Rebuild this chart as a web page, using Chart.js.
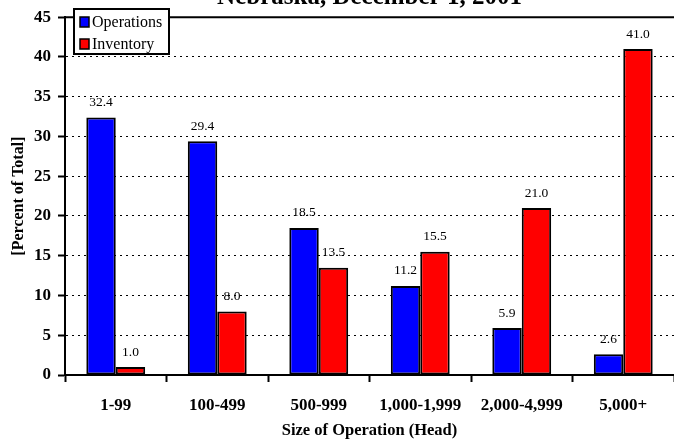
<!DOCTYPE html>
<html>
<head>
<meta charset="utf-8">
<script src="https://cdn.jsdelivr.net/npm/chart.js@4/dist/chart.umd.min.js"></script>
<style>
  html, body { margin: 0; padding: 0; background: #fff; }
  #wrap { width: 674px; height: 442px; position: relative; }
</style>
</head>
<body>
<div id="wrap"><canvas id="c" width="674" height="442"></canvas></div>
<script>
const titleText = 'Nebraska, December 1, 2001';
const categories = ['1-99', '100-499', '500-999', '1,000-1,999', '2,000-4,999', '5,000+'];
const operations = [32.4, 29.4, 18.5, 11.2, 5.9, 2.6];
const inventory = [1.0, 8.0, 13.5, 15.5, 21.0, 41.0];
const yTicks = [0, 5, 10, 15, 20, 25, 30, 35, 40, 45];

const SERIF = '"Liberation Serif", "Times New Roman", serif';
const Y_MAX = yTicks[yTicks.length - 1];

// Value labels above every bar
const valueLabels = {
  id: 'valueLabels',
  afterDatasetsDraw(chart) {
    const ctx = chart.ctx;
    ctx.save();
    ctx.font = '13.5px ' + SERIF;
    ctx.fillStyle = '#000';
    ctx.textAlign = 'center';
    ctx.textBaseline = 'middle';
    chart.data.datasets.forEach((ds, i) => {
      chart.getDatasetMeta(i).data.forEach((bar, j) => {
        ctx.fillText(ds.data[j].toFixed(1), bar.x, bar.y - 15);
      });
    });
    ctx.restore();
  }
};

// Solid frame line at the top of the value axis, title, and boxed legend
const decorations = {
  id: 'decorations',
  afterDraw(chart) {
    const ctx = chart.ctx;
    const area = chart.chartArea;
    const yScale = chart.scales.y;
    const yTop = yScale.getPixelForValue(Y_MAX);
    ctx.save();
    ctx.strokeStyle = '#000';
    ctx.lineWidth = 2;
    ctx.beginPath();
    ctx.moveTo(area.left, yTop);
    ctx.lineTo(chart.width, yTop);
    ctx.stroke();

    // title (sits partly above the canvas edge)
    ctx.font = 'bold 25px ' + SERIF;
    ctx.fillStyle = '#000';
    ctx.textAlign = 'center';
    ctx.textBaseline = 'alphabetic';
    ctx.fillText(titleText, (area.left + area.right) / 2, 4);

    // legend box
    const bx = 74, by = 9, bw = 95, bh = 45;
    ctx.fillStyle = '#fff';
    ctx.fillRect(bx, by, bw, bh);
    ctx.lineWidth = 2;
    ctx.strokeRect(bx, by, bw, bh);
    ctx.font = '16px ' + SERIF;
    ctx.textAlign = 'left';
    ctx.textBaseline = 'middle';
    chart.data.datasets.forEach((ds, i) => {
      const cy = 22 + i * 22;
      ctx.fillStyle = ds.backgroundColor;
      ctx.fillRect(80, cy - 5, 9, 10);
      ctx.lineWidth = 1.5;
      ctx.strokeStyle = '#000';
      ctx.strokeRect(80, cy - 5, 9, 10);
      ctx.fillStyle = '#000';
      ctx.fillText(ds.label, 92, cy + 1);
    });
    ctx.restore();
  }
};

new Chart(document.getElementById('c'), {
  type: 'bar',
  data: {
    labels: categories,
    datasets: [
      { label: 'Operations', data: operations, backgroundColor: '#0000ff',
        borderColor: '#000', borderWidth: 2, borderSkipped: false },
      { label: 'Inventory', data: inventory, backgroundColor: '#ff0000',
        borderColor: '#000', borderWidth: 2, borderSkipped: false }
    ]
  },
  options: {
    responsive: false,
    animation: false,
    layout: { padding: { top: 13, right: 0, left: 0, bottom: 0 } },
    datasets: { bar: { categoryPercentage: 0.58, barPercentage: 1.0 } },
    plugins: {
      legend: { display: false },
      tooltip: { enabled: false },
      title: { display: false }
    },
    scales: {
      x: {
        afterFit(s) { s.height = 67; },
        grid: {
          offset: true,
          drawOnChartArea: false,
          drawTicks: true,
          tickLength: 7,
          tickColor: '#000',
          tickWidth: 2
        },
        border: { display: true, color: '#000', width: 2 },
        ticks: {
          color: '#000',
          padding: 13,
          maxRotation: 0,
          font: { family: SERIF, size: 17, weight: 'bold' }
        },
        title: {
          display: true,
          text: 'Size of Operation (Head)',
          color: '#000',
          padding: { top: 0, bottom: 1 },
          font: { family: SERIF, size: 16.5, weight: 'bold' }
        }
      },
      y: {
        min: 0,
        max: Y_MAX,
        afterFit(s) { s.width = 65; },
        afterBuildTicks(s) { s.ticks = yTicks.map(v => ({ value: v })); },
        grid: {
          color: c => (c.tick && (c.tick.value === 0 || c.tick.value === Y_MAX)) ? 'rgba(0,0,0,0)' : '#000',
          lineWidth: 1,
          drawTicks: true,
          tickLength: 7,
          tickColor: '#000',
          tickWidth: 2
        },
        border: { display: true, color: '#000', width: 2, dash: [2, 4] },
        ticks: {
          color: '#000',
          padding: 7,
          font: { family: SERIF, size: 17, weight: 'bold' }
        },
        title: {
          display: true,
          text: '[Percent of Total]',
          color: '#000',
          padding: { top: 9, bottom: 0 },
          font: { family: SERIF, size: 16, weight: 'bold' }
        }
      }
    }
  },
  plugins: [valueLabels, decorations]
});
</script>
</body>
</html>
